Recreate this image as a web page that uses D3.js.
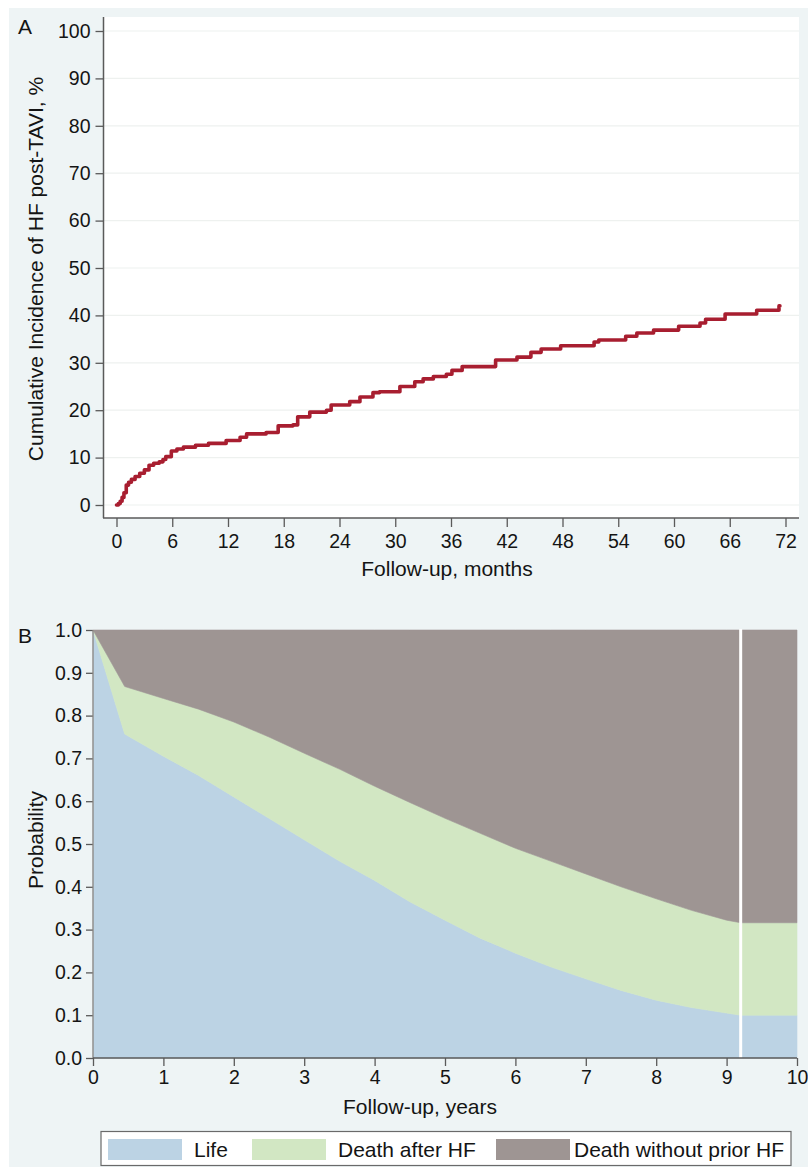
<!DOCTYPE html>
<html>
<head>
<meta charset="utf-8">
<script src="https://cdn.jsdelivr.net/npm/d3@7"></script>
<style>
  body { margin: 0; background: #fff; }
  svg { display: block; font-family: "Liberation Sans", Arial, Helvetica, sans-serif; }
</style>
</head>
<body>
<div id="chart"></div>
<script>
// Panel A: cumulative incidence of HF post-TAVI (step curve)
const monthsA = [0, 0.2, 0.4, 0.6, 0.8, 1.05, 1.3, 1.6, 2.0, 2.5, 3.0, 3.5, 4.0, 4.6, 5.0, 5.3, 5.9, 6.5, 7.2, 8.5, 9.9, 11.8, 13.3, 14.0, 16.1, 17.4,
  19.0, 19.5, 20.8, 22.6, 23.1, 25.1, 26.2, 27.6, 28.3, 30.5, 32.1, 33.0, 34.1, 35.5, 36.1, 37.2,
  40.8, 43.1, 44.6, 45.7, 47.8, 51.4, 51.9, 54.8, 56.0, 57.8, 60.5, 62.8, 63.4, 65.5, 68.9, 71.3, 71.4];
const incidenceA = [0, 0.3, 0.8, 1.6, 2.6, 4.2, 4.8, 5.4, 6.0, 6.7, 7.4, 8.4, 8.8, 9.1, 9.6, 10.2, 11.4, 11.8, 12.2, 12.6, 13.0, 13.6, 14.3, 15.0, 15.3, 16.7,
  16.9, 18.6, 19.6, 20.0, 21.1, 21.8, 22.8, 23.7, 23.9, 25.0, 26.0, 26.6, 27.1, 27.6, 28.4, 29.2,
  30.6, 31.2, 32.2, 32.9, 33.6, 34.4, 34.8, 35.6, 36.3, 36.9, 37.7, 38.4, 39.2, 40.3, 41.1, 42.0, 42.0];
const ticksA_x = d3.range(0, 73, 6);
const ticksA_y = d3.range(0, 101, 10);

// Panel B: stacked state probabilities
const yearsB = [0, 0.45, 1, 1.5, 2, 2.5, 3, 3.5, 4, 4.5, 5, 5.5, 6, 6.5, 7, 7.5, 8, 8.5, 9, 9.2, 10];
const life = [1.0, 0.757, 0.705, 0.66, 0.61, 0.56, 0.51, 0.46, 0.415, 0.365, 0.322, 0.28, 0.245, 0.213, 0.185, 0.158, 0.135, 0.118, 0.105, 0.10, 0.10];
const deathAfterHF = [0, 0.111, 0.135, 0.155, 0.175, 0.19, 0.202, 0.215, 0.22, 0.232, 0.238, 0.245, 0.245, 0.247, 0.245, 0.242, 0.237, 0.227, 0.217, 0.216, 0.216];
const deathNoHF = [0, 0.132, 0.16, 0.185, 0.215, 0.25, 0.288, 0.325, 0.365, 0.403, 0.44, 0.475, 0.51, 0.54, 0.57, 0.6, 0.628, 0.655, 0.678, 0.684, 0.684];
const seriesNames = ["Life", "Death after HF", "Death without prior HF"];
const seriesColors = ["#bcd3e4", "#d2e7c3", "#9e9593"];
const cutYear = 9.2;
const ticksB_x = d3.range(0, 11, 1);
const ticksB_y = d3.range(0, 1.01, 0.1);

const width = 808, height = 1167;
const bg = "#eef4f5", axisColor = "#5a5a5a", textColor = "#141414";

const svg = d3.select("#chart").append("svg")
  .attr("width", width).attr("height", height);

svg.append("rect").attr("width", width).attr("height", height).attr("fill", "#fff");
svg.append("rect").attr("x", 9).attr("y", 8).attr("width", width - 9).attr("height", height - 8).attr("fill", bg);

/* ---------- Panel A ---------- */
const A = {left: 104, right: 799, top: 17, bottom: 518};
const xA = d3.scaleLinear().domain([0, 72]).range([116.5, 785.5]);
const yA = d3.scaleLinear().domain([0, 100]).range([505, 31]);

svg.append("rect")
  .attr("x", A.left).attr("y", A.top)
  .attr("width", A.right - A.left).attr("height", A.bottom - A.top)
  .attr("fill", "#fff");

// gridlines
svg.append("g").selectAll("line").data(ticksA_y).join("line")
  .attr("x1", A.left).attr("x2", A.right)
  .attr("y1", d => yA(d)).attr("y2", d => yA(d))
  .attr("stroke", "#eef1ef").attr("stroke-width", 1.2);

// step curve
const lineA = d3.line().x(d => xA(d[0])).y(d => yA(d[1])).curve(d3.curveStepAfter);
svg.append("path")
  .datum(monthsA.map((m, i) => [m, incidenceA[i]]))
  .attr("d", lineA)
  .attr("fill", "none")
  .attr("stroke", "#a81e30")
  .attr("stroke-width", 3.6)
  .attr("stroke-linejoin", "round")
  .attr("stroke-linecap", "round");

function styleAxis(g, size) {
  g.select(".domain").remove();
  g.selectAll(".tick line").attr("stroke", axisColor).attr("stroke-width", 1.3);
  g.selectAll(".tick text").attr("fill", textColor).attr("font-size", size);
  g.attr("font-family", null);
}

svg.append("g")
  .attr("transform", `translate(${A.left - 0.5},0)`)
  .call(d3.axisLeft(yA).tickValues(ticksA_y).tickSize(8).tickPadding(5))
  .call(g => styleAxis(g, "19.5px"));

svg.append("g")
  .attr("transform", `translate(0,${A.bottom})`)
  .call(d3.axisBottom(xA).tickValues(ticksA_x).tickSize(9).tickPadding(7))
  .call(g => styleAxis(g, "19.5px"));

svg.append("line").attr("x1", A.left - 0.5).attr("x2", A.left - 0.5).attr("y1", A.top).attr("y2", A.bottom)
  .attr("stroke", axisColor).attr("stroke-width", 1.5);
svg.append("line").attr("x1", A.left - 1).attr("x2", A.right).attr("y1", A.bottom).attr("y2", A.bottom)
  .attr("stroke", axisColor).attr("stroke-width", 1.5);

svg.append("text").attr("x", 18).attr("y", 34).text("A")
  .attr("font-size", "21px").attr("fill", textColor);
svg.append("text")
  .attr("transform", "translate(43,269) rotate(-90)")
  .attr("text-anchor", "middle").attr("font-size", "21px").attr("fill", textColor)
  .text("Cumulative Incidence of HF post-TAVI, %");
svg.append("text").attr("x", 447).attr("y", 576)
  .attr("text-anchor", "middle").attr("font-size", "21px").attr("fill", textColor)
  .text("Follow-up, months");

/* ---------- Panel B ---------- */
const B = {left: 93, right: 797, top: 630, bottom: 1058};
const xB = d3.scaleLinear().domain([0, 10]).range([B.left, B.right]);
const yB = d3.scaleLinear().domain([0, 1]).range([B.bottom, B.top]);

const tableB = yearsB.map((t, i) => ({t: t, s0: life[i], s1: deathAfterHF[i], s2: deathNoHF[i]}));
const stackB = d3.stack().keys(["s0", "s1", "s2"])(tableB);
const areaB = d3.area()
  .x(d => xB(d.data.t))
  .y0(d => yB(d[0]))
  .y1(d => yB(Math.min(1, d[1])));

svg.append("g").selectAll("path").data(stackB).join("path")
  .attr("d", areaB)
  .attr("fill", (d, i) => seriesColors[i])
  .attr("stroke", (d, i) => seriesColors[i])
  .attr("stroke-width", 0.6);

// white separator at censoring time
svg.append("line")
  .attr("x1", xB(cutYear)).attr("x2", xB(cutYear))
  .attr("y1", B.top - 1).attr("y2", B.bottom)
  .attr("stroke", "#fff").attr("stroke-width", 3);

svg.append("g")
  .attr("transform", `translate(${B.left},0)`)
  .call(d3.axisLeft(yB).tickValues(ticksB_y).tickFormat(d3.format(".1f")).tickSize(7).tickPadding(4))
  .call(g => styleAxis(g, "19.5px"));

svg.append("g")
  .attr("transform", `translate(0,${B.bottom})`)
  .call(d3.axisBottom(xB).tickValues(ticksB_x).tickSize(8).tickPadding(4))
  .call(g => styleAxis(g, "19.5px"));

svg.append("line").attr("x1", B.left).attr("x2", B.left).attr("y1", B.top).attr("y2", B.bottom)
  .attr("stroke", "#8a8580").attr("stroke-width", 1.3);
svg.append("line").attr("x1", B.left).attr("x2", B.right).attr("y1", B.bottom).attr("y2", B.bottom)
  .attr("stroke", axisColor).attr("stroke-width", 1.3);

svg.append("text").attr("x", 18).attr("y", 643).text("B")
  .attr("font-size", "21px").attr("fill", textColor);
svg.append("text")
  .attr("transform", "translate(43,840) rotate(-90)")
  .attr("text-anchor", "middle").attr("font-size", "21px").attr("fill", textColor)
  .text("Probability");
svg.append("text").attr("x", 420).attr("y", 1114)
  .attr("text-anchor", "middle").attr("font-size", "21px").attr("fill", textColor)
  .text("Follow-up, years");

// legend
const legend = svg.append("g");
legend.append("rect")
  .attr("x", 101).attr("y", 1131.5).attr("width", 690).attr("height", 34)
  .attr("fill", "#fff").attr("stroke", "#6a6a6a").attr("stroke-width", 1.2);
const legendX = [108, 252, 496];
const items = legend.selectAll("g.item").data(seriesNames).join("g")
  .attr("class", "item")
  .attr("transform", (d, i) => `translate(${legendX[i]},0)`);
items.append("rect")
  .attr("x", 0).attr("y", 1139).attr("width", 74).attr("height", 21)
  .attr("fill", (d, i) => seriesColors[i]);
items.append("text")
  .attr("x", (d, i) => i === 2 ? 78 : 86).attr("y", 1157)
  .attr("font-size", "21px").attr("fill", textColor)
  .text(d => d);
</script>
</body>
</html>
